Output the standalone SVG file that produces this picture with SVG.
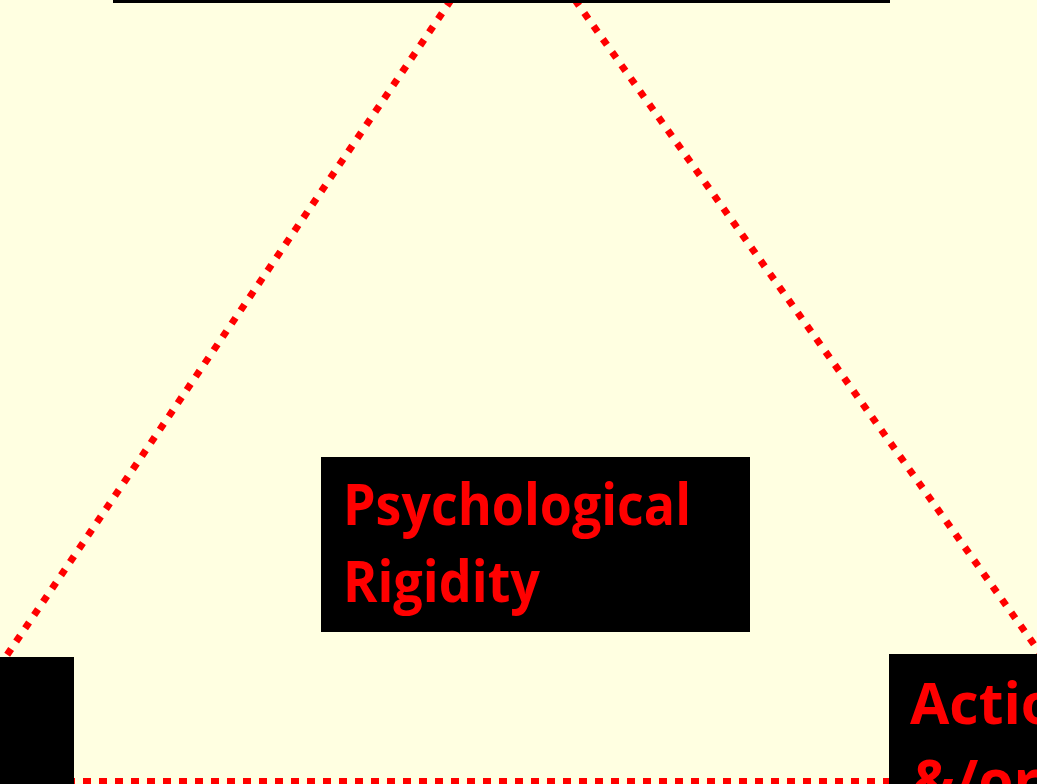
<svg xmlns="http://www.w3.org/2000/svg" width="1037" height="784" viewBox="0 0 1037 784">
  <defs>
    <style>
      .dot { fill: none; stroke: #FF0000; stroke-width: 7; stroke-dasharray: 7 9; }
      .dotH { fill: none; stroke: #FF0000; stroke-width: 6; stroke-dasharray: 8 8; }
      .box { fill: #000000; }
      .lbl { font-family: "Open Sans", "Noto Sans", "Liberation Sans", sans-serif; font-weight: bold; font-size: 57px; fill: #FF0000; }
    </style>
  </defs>
  <rect x="0" y="0" width="1037" height="784" fill="#FFFFE1"/>
  <g id="connectors">
    <line class="dot" x1="451" y1="0" x2="-14" y2="686"/>
    <line class="dot" x1="575" y1="0" x2="1075" y2="702"/>
    <line class="dotH" x1="67" y1="781" x2="889" y2="781"/>
  </g>
  <g id="top-node">
    <rect class="box" x="113" y="0" width="777" height="3"/>
  </g>
  <g id="center-node">
    <rect class="box" x="321" y="457" width="429" height="175"/>
    <text class="lbl" x="343" y="525" textLength="348" lengthAdjust="spacingAndGlyphs">Psychological</text>
    <text class="lbl" x="343" y="602" textLength="197" lengthAdjust="spacingAndGlyphs">Rigidity</text>
  </g>
  <g id="left-node">
    <rect class="box" x="0" y="657" width="74" height="127"/>
  </g>
  <g id="right-node">
    <rect class="box" x="889" y="654" width="148" height="130"/>
    <text class="lbl" x="910" y="724">Action</text>
    <text class="lbl" x="912" y="801">&amp;/or</text>
  </g>
</svg>
